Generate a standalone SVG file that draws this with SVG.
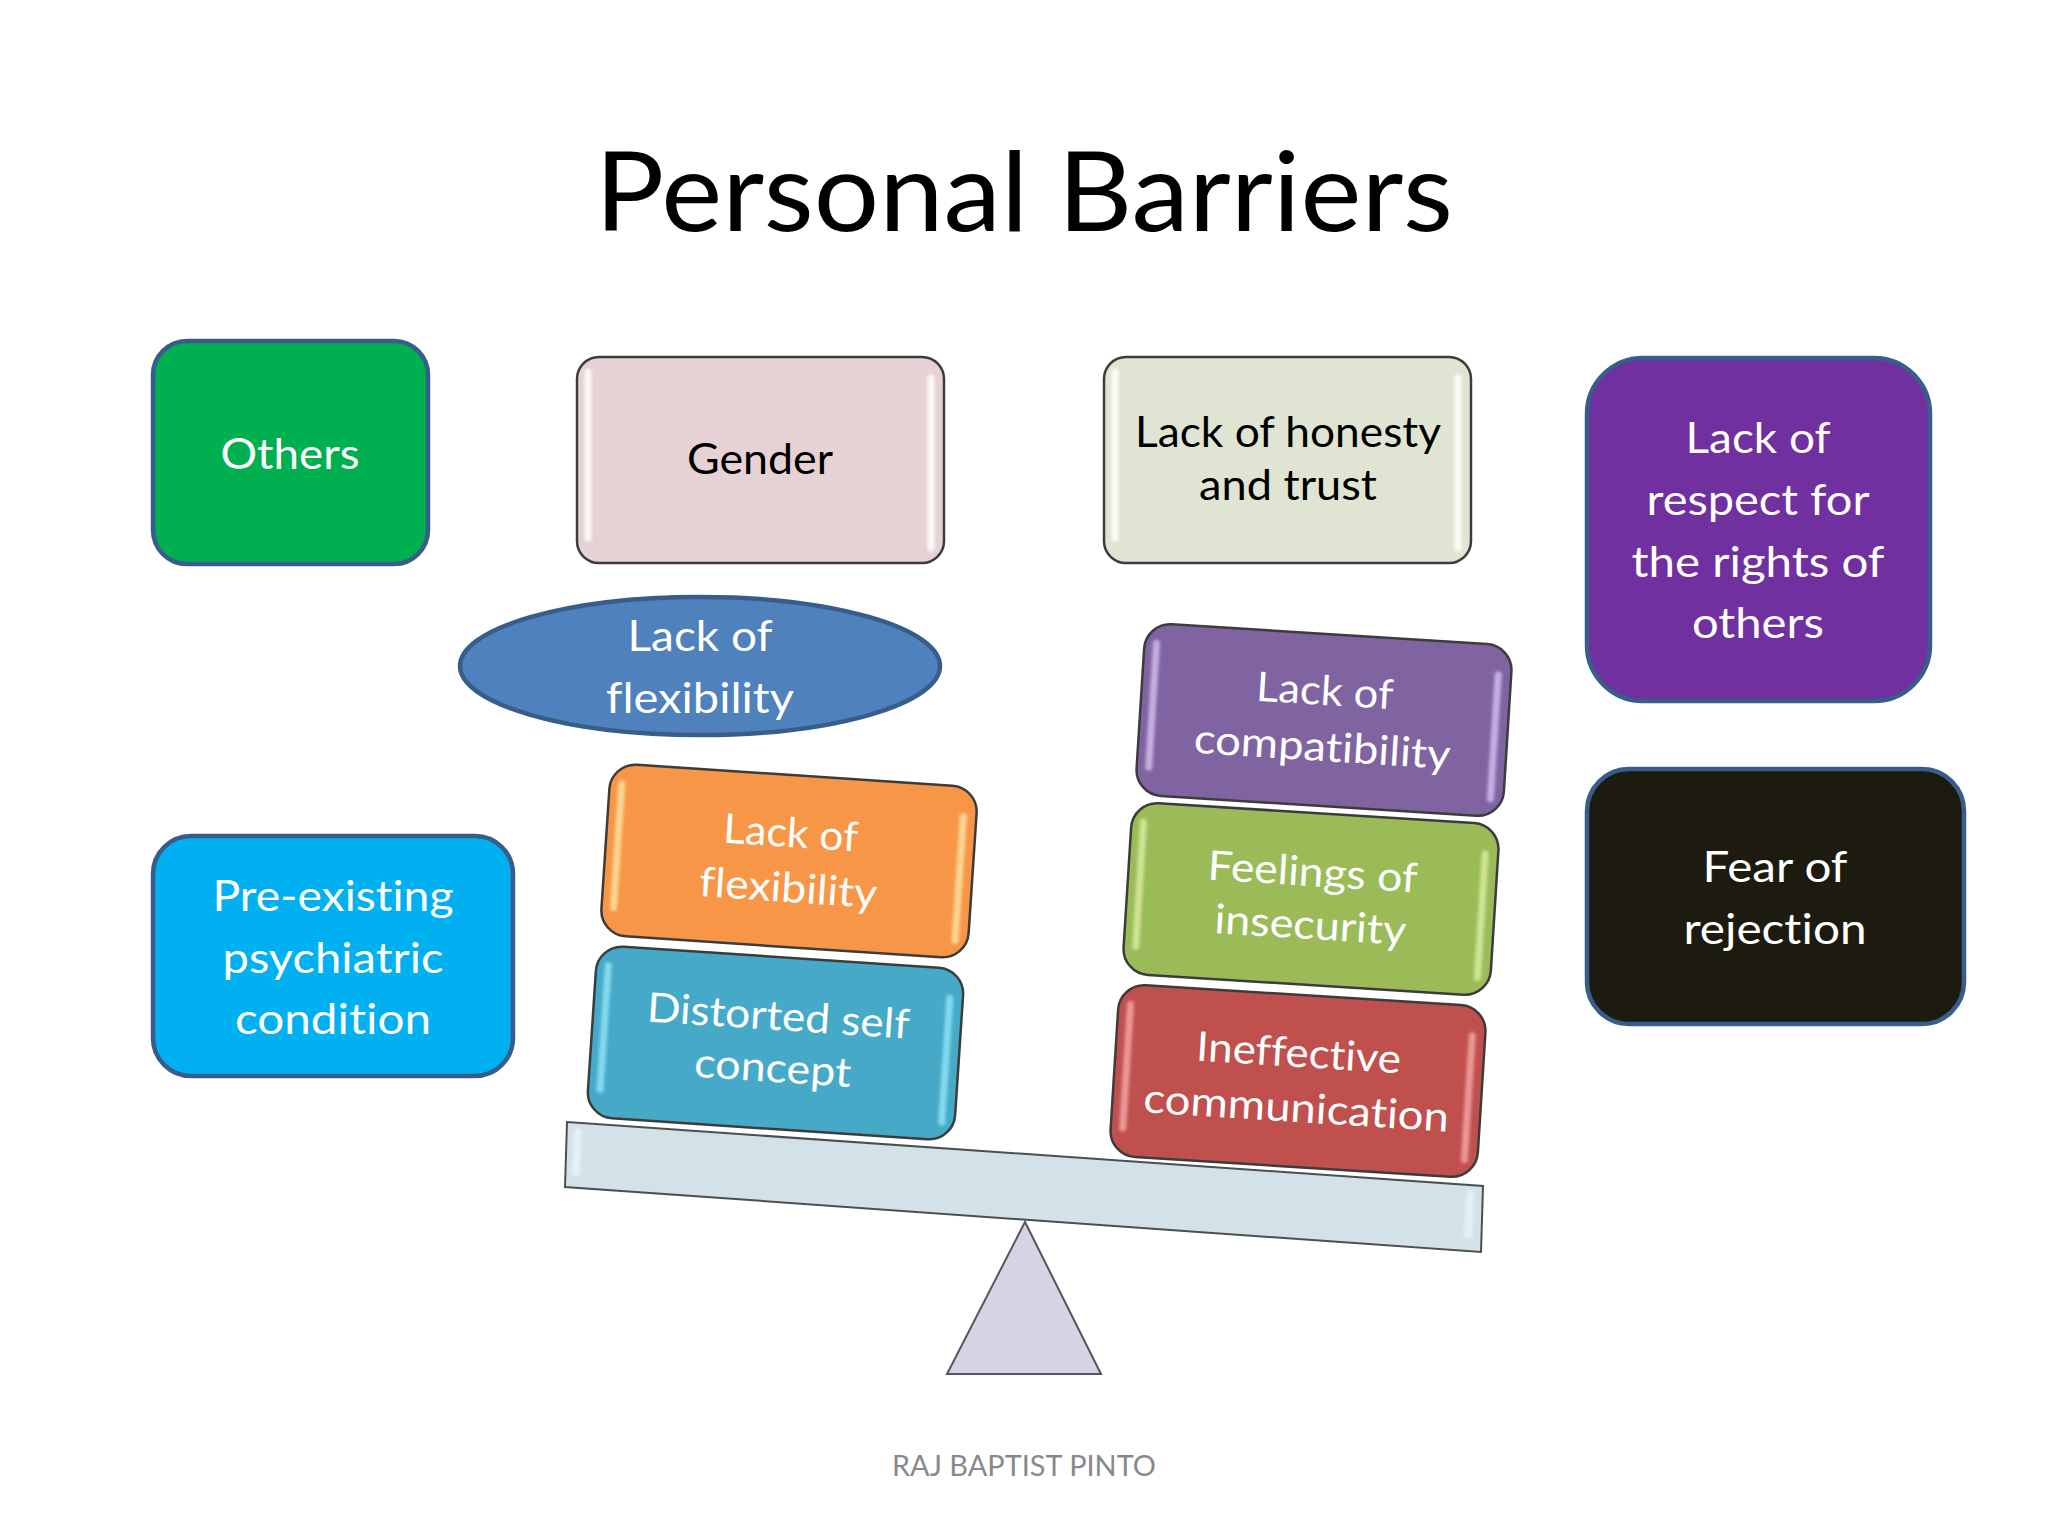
<svg xmlns="http://www.w3.org/2000/svg" width="2048" height="1536" viewBox="0 0 2048 1536">
<style>
text{font-family:"Lato","Liberation Sans",sans-serif;text-anchor:middle;font-size:43px;fill:#fff;font-variant-ligatures:none}
.t{font-size:41px}
.k{fill:#000}
.flat{stroke:#385d8a;stroke-width:4.5}
.gloss{stroke:#3c3c3c;stroke-width:2.5}
.hl{fill:none;stroke-width:7;stroke-linecap:round;filter:url(#soft);opacity:.85}
</style>
<defs>
<filter id="soft" x="-300%" y="-10%" width="700%" height="120%"><feGaussianBlur stdDeviation="1.6"/></filter>
</defs>
<rect width="2048" height="1536" fill="#fff"/>
<text id="title" x="1024" y="231" textLength="858" lengthAdjust="spacingAndGlyphs" style="font-size:110px;fill:#000">Personal Barriers</text>

<g id="others"><rect class="flat" x="153" y="341" width="275" height="223" rx="34" fill="#00b050"/>
<text x="290" y="469" textLength="139" lengthAdjust="spacingAndGlyphs">Others</text></g>

<g id="gender"><rect class="gloss" x="577" y="357" width="367" height="206" rx="22" fill="#e6d2d4"/>
<path class="hl" stroke="#fff" d="M588 372V538M931 378V548"/>
<text class="k" x="760" y="474" textLength="146" lengthAdjust="spacingAndGlyphs">Gender</text></g>

<g id="honesty"><rect class="gloss" x="1104" y="357" width="367" height="206" rx="22" fill="#e0e5d3"/>
<path class="hl" stroke="#fff" d="M1115 372V538M1458 378V548"/>
<text class="k" x="1288" y="447" textLength="306" lengthAdjust="spacingAndGlyphs">Lack of honesty</text>
<text class="k" x="1288" y="500" textLength="178" lengthAdjust="spacingAndGlyphs">and trust</text></g>

<g id="respect"><rect class="flat" x="1587" y="358" width="343" height="343" rx="56" fill="#7030a0"/>
<text x="1758" y="453" textLength="145" lengthAdjust="spacingAndGlyphs">Lack of</text>
<text x="1758" y="515" textLength="223" lengthAdjust="spacingAndGlyphs">respect for</text>
<text x="1758" y="577" textLength="253" lengthAdjust="spacingAndGlyphs">the rights of</text>
<text x="1758" y="638" textLength="132" lengthAdjust="spacingAndGlyphs">others</text></g>

<g id="rejection"><rect class="flat" x="1587" y="769" width="377" height="255" rx="42" fill="#1d1b10"/>
<text x="1775" y="882" textLength="145" lengthAdjust="spacingAndGlyphs">Fear of</text>
<text x="1775" y="944" textLength="183" lengthAdjust="spacingAndGlyphs">rejection</text></g>

<g id="psychiatric"><rect class="flat" x="153" y="836" width="360" height="240" rx="38" fill="#00b0f0"/>
<text x="333" y="911" textLength="241" lengthAdjust="spacingAndGlyphs">Pre-existing</text>
<text x="333" y="973" textLength="221" lengthAdjust="spacingAndGlyphs">psychiatric</text>
<text x="333" y="1034" textLength="196" lengthAdjust="spacingAndGlyphs">condition</text></g>

<g id="flexibility-ellipse"><ellipse class="flat" cx="700" cy="666" rx="240" ry="69" fill="#4f81bd"/>
<text x="700" y="651" textLength="145" lengthAdjust="spacingAndGlyphs">Lack of</text>
<text x="700" y="713" textLength="188" lengthAdjust="spacingAndGlyphs">flexibility</text></g>

<g id="scale">
<path d="M567 1122L1483 1186L1481 1252L565 1187Z" fill="#d3e2e8" stroke="#4a5052" stroke-width="2"/>
<path d="M1470 1195L1468 1235M578 1132L576 1172" fill="none" stroke="#e6f1f4" stroke-width="8" stroke-linecap="round" filter="url(#soft)"/>
<path d="M1025 1222L1101 1374H947Z" fill="#d6d3e3" stroke="#55555f" stroke-width="2"/>
</g>

<g id="distorted" transform="translate(775.5 1043) rotate(3.8)"><rect class="gloss" x="-184" y="-86" width="368" height="172" rx="26" fill="#46a9c8"/>
<path class="hl" stroke="#8fe3f6" d="M-172 -66V58M171 -56V68"/>
<text class="t" x="1" y="-13" textLength="263" lengthAdjust="spacingAndGlyphs">Distorted self</text>
<text class="t" x="-1" y="39" textLength="157" lengthAdjust="spacingAndGlyphs">concept</text></g>

<g id="flexibility-box" transform="translate(789 861) rotate(3.8)"><rect class="gloss" x="-184" y="-86" width="368" height="172" rx="26" fill="#f79646"/>
<path class="hl" stroke="#fde0a0" d="M-172 -66V58M171 -56V68"/>
<text class="t" x="0" y="-14" textLength="135" lengthAdjust="spacingAndGlyphs">Lack of</text>
<text class="t" x="1" y="41" textLength="178" lengthAdjust="spacingAndGlyphs">flexibility</text></g>

<g id="communication" transform="translate(1298 1081) rotate(3.6)"><rect class="gloss" x="-184" y="-86" width="368" height="172" rx="26" fill="#c0504d"/>
<path class="hl" stroke="#f3a5a2" d="M-172 -66V58M171 -56V68"/>
<text class="t" x="-1" y="-14" textLength="205" lengthAdjust="spacingAndGlyphs">Ineffective</text>
<text class="t" x="0" y="41" textLength="306" lengthAdjust="spacingAndGlyphs">communication</text></g>

<g id="insecurity" transform="translate(1311 899) rotate(3.6)"><rect class="gloss" x="-184" y="-86" width="368" height="172" rx="26" fill="#9bbb59"/>
<path class="hl" stroke="#d8ec9c" d="M-172 -66V58M171 -56V68"/>
<text class="t" x="0" y="-13" textLength="210" lengthAdjust="spacingAndGlyphs">Feelings of</text>
<text class="t" x="1" y="40" textLength="192" lengthAdjust="spacingAndGlyphs">insecurity</text></g>

<g id="compatibility" transform="translate(1324 720) rotate(3.6)"><rect class="gloss" x="-184" y="-86" width="368" height="172" rx="26" fill="#8064a2"/>
<path class="hl" stroke="#d2bcec" d="M-172 -66V58M171 -56V68"/>
<text class="t" x="-1" y="-15" textLength="137" lengthAdjust="spacingAndGlyphs">Lack of</text>
<text class="t" x="0" y="41" textLength="257" lengthAdjust="spacingAndGlyphs">compatibility</text></g>

<text id="footer" x="1024" y="1476" textLength="264" lengthAdjust="spacingAndGlyphs" style="font-size:29px;fill:#898989">RAJ BAPTIST PINTO</text>
</svg>
